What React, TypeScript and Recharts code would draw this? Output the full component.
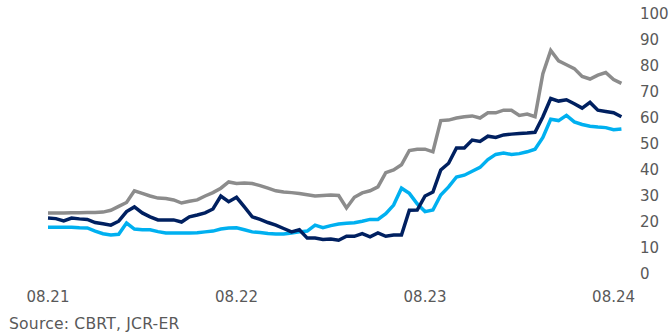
import { LineChart, Line, XAxis, YAxis } from "recharts";

// months since 08.21, sampled every half month
const months = [
  0, 0.5, 1, 1.5, 2, 2.5, 3, 3.5, 4, 4.5, 5, 5.5, 6, 6.5, 7, 7.5, 8, 8.5, 9, 9.5,
  10, 10.5, 11, 11.5, 12, 12.5, 13, 13.5, 14, 14.5, 15, 15.5, 16, 16.5, 17, 17.5,
  18, 18.5, 19, 19.5, 20, 20.5, 21, 21.5, 22, 22.5, 23, 23.5, 24, 24.5, 25, 25.5,
  26, 26.5, 27, 27.5, 28, 28.5, 29, 29.5, 30, 30.5, 31, 31.5, 32, 32.5, 33, 33.5,
  34, 34.5, 35, 35.5, 36, 36.5,
];

const grayLine = [
  23.5, 23.5, 23.5, 23.6, 23.6, 23.7, 23.7, 23.8, 24.5, 26, 27.5, 32, 31, 30, 29.2, 29,
  28.5, 27.3, 28, 28.5, 30, 31.3, 33, 35.4, 34.8, 35, 34.8, 34, 33, 32, 31.5, 31.3,
  31, 30.5, 30, 30.2, 30.4, 30.2, 25.4, 29.5, 31.2, 32, 33.5, 39, 40, 42, 47.5, 48,
  48, 47, 59, 59.2, 60, 60.5, 60.8, 60, 62, 62, 63, 63, 61, 61.5, 60.5, 77, 86, 82,
  80.5, 79, 76, 75, 76.5, 77.5, 74.8, 73.3,
];

const navyLine = [
  21.5, 21.3, 20.4, 21.5, 21.2, 21, 19.8, 19.3, 18.8, 20.3, 24, 25.8, 23.5, 22, 20.8, 20.8,
  20.8, 20, 22, 22.7, 23.5, 25, 30, 27.8, 29.5, 25.8, 22, 21, 19.8, 18.8, 17.5, 16.2,
  17, 13.8, 13.8, 13.3, 13.5, 13, 14.5, 14.5, 15.5, 14.3, 15.8, 14.5, 15, 15, 24.5, 24.6,
  30, 31.5, 40, 42.6, 48.5, 48.5, 51.5, 51, 53, 52.5, 53.5, 53.8, 54, 54.2, 54.5, 60.5,
  67.5, 66.5, 67, 65.5, 63.8, 66, 63, 62.5, 62, 60.5,
];

const blueLine = [
  18, 18, 18, 18, 17.8, 17.7, 16.5, 15.5, 15, 15.3, 19.6, 17.3, 17, 17, 16.3, 15.8,
  15.8, 15.8, 15.8, 15.9, 16.2, 16.5, 17.3, 17.7, 17.8, 17, 16.2, 16, 15.6, 15.4, 15.4, 15.8,
  16.2, 16.5, 18.8, 17.8, 18.6, 19.2, 19.5, 19.7, 20.3, 21, 21, 23.2, 26.5, 33, 31, 27,
  24, 24.6, 30.4, 33.5, 37.3, 38, 39.5, 41, 44, 46, 46.5, 46, 46.3, 47, 48, 52.5,
  59.5, 59, 61, 58.5, 57.5, 56.8, 56.5, 56.3, 55.5, 55.8,
];

const xTicks = [0, 12, 24, 36];
const xTickLabels = ["08.21", "08.22", "08.23", "08.24"];
const yTicks = [0, 10, 20, 30, 40, 50, 60, 70, 80, 90, 100];

const data = months.map((m, i) => ({
  m,
  gray: grayLine[i],
  navy: navyLine[i],
  blue: blueLine[i],
}));

const tickStyle = { fill: "#595959", fontSize: 15, fontFamily: "DejaVu Sans" };

export default function App() {
  return (
    <div
      style={{
        position: "absolute",
        left: 0,
        top: 0,
        width: 670,
        height: 335,
        background: "#fff",
        fontFamily: "DejaVu Sans",
      }}
    >
      <LineChart
        width={670}
        height={310}
        data={data}
        margin={{ top: 14, right: 2, left: 48, bottom: 0 }}
      >
        <XAxis
          dataKey="m"
          type="number"
          domain={[0, 36.6]}
          ticks={xTicks}
          tickFormatter={(v: number) => xTickLabels[xTicks.indexOf(v)]}
          axisLine={false}
          tickLine={false}
          tick={tickStyle}
          tickMargin={11}
          height={36}
          interval={0}
        />
        <YAxis
          orientation="right"
          domain={[0, 100]}
          ticks={yTicks}
          axisLine={false}
          tickLine={false}
          tick={tickStyle}
          tickMargin={11}
          width={45}
          interval={0}
        />
        <Line
          type="linear"
          dataKey="gray"
          stroke="#8c8c8c"
          strokeWidth={3.5}
          dot={false}
          isAnimationActive={false}
        />
        <Line
          type="linear"
          dataKey="blue"
          stroke="#00b0f0"
          strokeWidth={3.5}
          dot={false}
          isAnimationActive={false}
        />
        <Line
          type="linear"
          dataKey="navy"
          stroke="#002060"
          strokeWidth={3.5}
          dot={false}
          isAnimationActive={false}
        />
      </LineChart>
      <div
        style={{
          position: "absolute",
          left: 9,
          top: 315,
          fontSize: 15.6,
          letterSpacing: 0.2,
          color: "#595959",
        }}
      >
        Source: CBRT, JCR-ER
      </div>
    </div>
  );
}
